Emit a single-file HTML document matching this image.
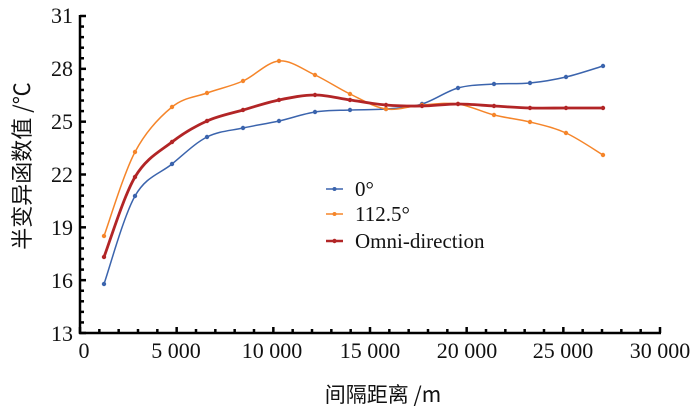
<!DOCTYPE html>
<html><head><meta charset="utf-8"><style>
html,body{margin:0;padding:0;background:#fff;}
</style></head><body>
<svg id="s" width="700" height="412" xmlns="http://www.w3.org/2000/svg">
<g id="ax" stroke="#000" stroke-width="2.5" fill="none"></g>
<g id="lines"></g>
<g font-size="22" text-anchor="end" font-family="'Liberation Serif', serif" fill="#111">
<text x="73" y="23">31</text><text x="73" y="76">28</text><text x="73" y="129">25</text>
<text x="73" y="182">22</text><text x="73" y="235">19</text><text x="73" y="288">16</text>
<text x="73" y="341">13</text>
</g>
<g font-size="22" text-anchor="middle" font-family="'Liberation Serif', serif" fill="#111">
<text x="84" y="358">0</text><text x="176" y="358">5 000</text><text x="272" y="358">10 000</text>
<text x="370" y="358">15 000</text><text x="467" y="358">20 000</text><text x="563" y="358">25 000</text>
<text x="660" y="358">30 000</text>
</g>
<text x="383" y="402" font-size="21" text-anchor="middle" font-family="'Noto Sans CJK SC', sans-serif" fill="#111">间隔距离 /m</text>
<text transform="translate(30,166) rotate(-90)" font-size="22" text-anchor="middle" font-family="'Noto Sans CJK SC', sans-serif" fill="#111">半变异函数值 /℃</text>
<g font-size="21" font-family="'Liberation Serif', serif" fill="#111">
<line x1="326" y1="189" x2="343" y2="189" stroke="#3b64ad" stroke-width="1.5"/><circle cx="334.5" cy="189" r="2" fill="#3b64ad"/>
<text x="355" y="196">0°</text>
<line x1="326" y1="214" x2="343" y2="214" stroke="#f5852a" stroke-width="1.5"/><circle cx="334.5" cy="214" r="2" fill="#f5852a"/>
<text x="355" y="221">112.5°</text>
<line x1="326" y1="241" x2="343" y2="241" stroke="#b22526" stroke-width="2.5"/><circle cx="334.5" cy="241" r="2.2" fill="#b22526"/>
<text x="355" y="248">Omni-direction</text>
</g>
</svg>
<script>
var ns="http://www.w3.org/2000/svg";
var ax=document.getElementById('ax');
function L(x1,y1,x2,y2){var l=document.createElementNS(ns,'line');l.setAttribute('x1',x1);l.setAttribute('y1',y1);l.setAttribute('x2',x2);l.setAttribute('y2',y2);ax.appendChild(l);}
L(80,15,80,334);L(79,333,661,333);
for(var i=0;i<=30;i++){var x=80+i*580/30;L(x,333,x,i%5==0?327:329);}
for(var j=0;j<=30;j++){var y=333-j*317/30;L(80,y,j%5==0?86:84,y);}
var xs=[104,135,172,207,243,279,315,350,386,422,458,494,530,566,603];
var S=[
{c:"#3b64ad",w:1.5,y:[284,196,164,137,128,121,112,110,109,104,88,84,83,77,66]},
{c:"#f5852a",w:1.5,y:[236,152,107,93,81,61,75,94,109,105,104,115,122,133,155]},
{c:"#b22526",w:2.8,y:[257,177,142,121,110,100,95,100,105,106,104,106,108,108,108]}];
var g=document.getElementById('lines');
S.forEach(function(s){
var p=xs.map(function(x,i){return [x,s.y[i]];});
var d="M"+p[0][0]+","+p[0][1];
for(var i=0;i<p.length-1;i++){
var p0=p[Math.max(i-1,0)],p1=p[i],p2=p[i+1],p3=p[Math.min(i+2,p.length-1)];
var c1=[p1[0]+(p2[0]-p0[0])/6,p1[1]+(p2[1]-p0[1])/6],c2=[p2[0]-(p3[0]-p1[0])/6,p2[1]-(p3[1]-p1[1])/6];
d+=" C"+c1+" "+c2+" "+p2;}
var pa=document.createElementNS(ns,'path');pa.setAttribute('d',d);pa.setAttribute('fill','none');
pa.setAttribute('stroke',s.c);pa.setAttribute('stroke-width',s.w);g.appendChild(pa);
p.forEach(function(q){var c=document.createElementNS(ns,'circle');c.setAttribute('cx',q[0]);c.setAttribute('cy',q[1]);c.setAttribute('r',2.2);c.setAttribute('fill',s.c);g.appendChild(c);});
});
</script>
</body></html>
